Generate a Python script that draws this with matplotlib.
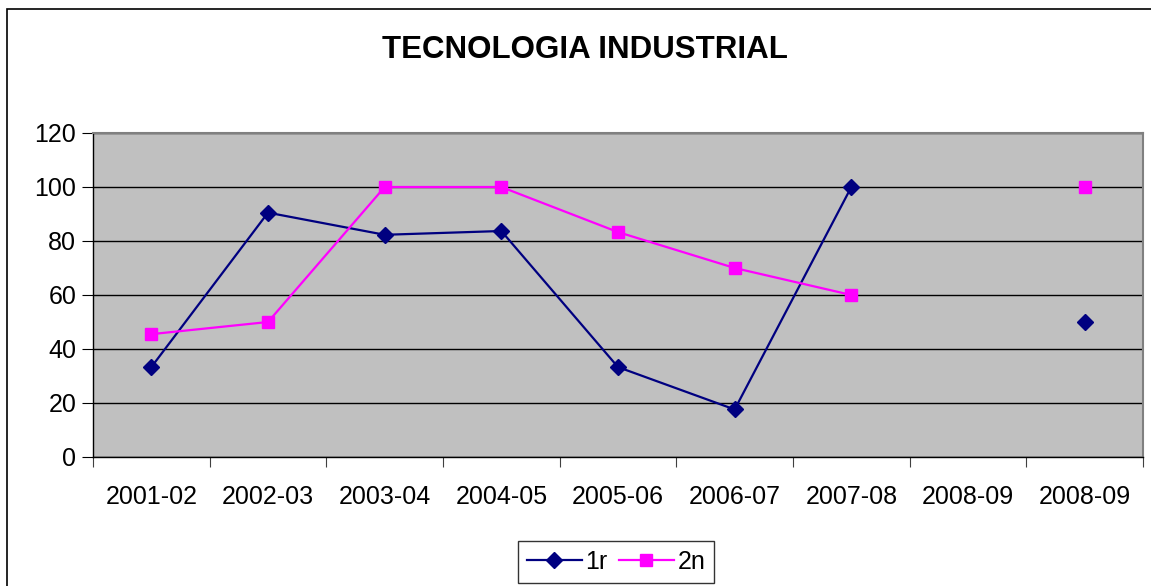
import matplotlib.pyplot as plt
import numpy as np
from matplotlib.patches import Rectangle

plt.rcParams['font.family'] = ['Liberation Sans', 'DejaVu Sans']

# Data
cursos = ['2001-02', '2002-03', '2003-04', '2004-05', '2005-06',
          '2006-07', '2007-08', '2008-09', '2008-09']
primer = [33.3, 90.5, 82.3, 83.7, 33.3, 17.6, 100, np.nan, 50]
segon = [45.5, 50, 100, 100, 83.3, 70, 60, np.nan, 100]

W, H = 1151, 586
fig = plt.figure(figsize=(W / 100, H / 100), dpi=100)
ax = fig.add_axes([93 / W, 1 - 457 / H, (1143 - 93) / W, (457 - 133) / H])

# outer chart border (cut off at right and bottom like the original)
fig.patches.append(Rectangle((7 / W, -0.1), 1.1, 1 - 9 / H + 0.1,
                             transform=fig.transFigure, fill=False,
                             edgecolor='black', linewidth=1.2))

ax.set_facecolor('#c0c0c0')
x = np.arange(len(cursos)) + 0.5
ax.plot(x, primer, color='#000080', marker='D', markersize=8.5, linewidth=1.6,
        label='1r')
ax.plot(x, segon, color='#ff00ff', marker='s', markersize=8.5, linewidth=1.6,
        label='2n')

ax.set_xlim(0, len(cursos))
ax.set_ylim(0, 120)
ax.set_yticks(range(0, 121, 20))
ax.set_xticks(np.arange(len(cursos) + 1))
ax.set_xticklabels([])
ax.set_xticks(x, minor=True)
ax.set_xticklabels(cursos, minor=True)
ax.tick_params(axis='x', which='minor', length=0, pad=20, labelsize=18)
ax.tick_params(axis='x', which='major', direction='out', length=7, color='#404040')
ax.tick_params(axis='y', direction='out', length=8, pad=4, labelsize=18)
ax.yaxis.grid(True, color='black', linewidth=1)
ax.set_axisbelow(True)

for s in ['top', 'right']:
    ax.spines[s].set_color('#808080')
    ax.spines[s].set_linewidth(1.5)
for s in ['left', 'bottom']:
    ax.spines[s].set_color('black')
    ax.spines[s].set_linewidth(1)

fig.text(585 / W, 1 - 50 / H, 'TECNOLOGIA INDUSTRIAL', ha='center', va='center',
         fontsize=22.5, fontweight='bold')

leg = fig.legend(loc='upper center', bbox_to_anchor=(616 / W, 1 - 541 / H),
                 ncol=2, frameon=True, fancybox=False, fontsize=18,
                 handlelength=2.2, columnspacing=0.45, handletextpad=0.15,
                 borderpad=0.35, borderaxespad=0)
leg.get_frame().set_edgecolor('black')
leg.get_frame().set_linewidth(1)

fig.savefig('out.png', dpi=100)
